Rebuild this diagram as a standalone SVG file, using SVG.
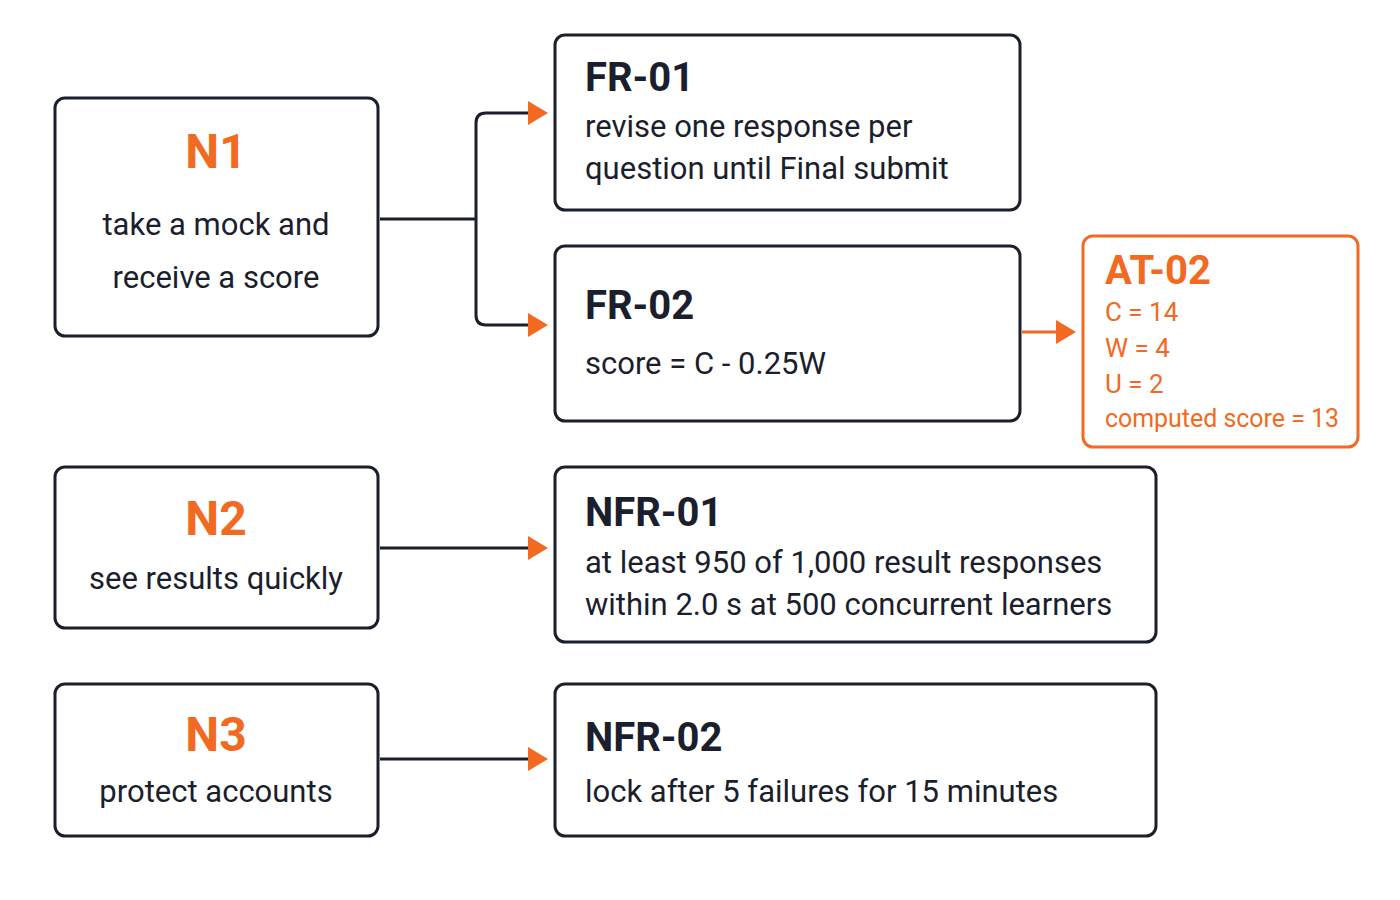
<svg xmlns="http://www.w3.org/2000/svg" width="1400" height="900" viewBox="0 0 1400 900">
<defs>
<style>
.box{fill:#fff;stroke:#1b1e2c;stroke-width:3}
.obox{fill:#fff;stroke:#f26a21;stroke-width:3}
.t{font-family:Roboto,"Liberation Sans",sans-serif;fill:#1b1e2c}
.h{font-weight:bold;font-size:40px}
.nh{font-weight:bold;font-size:48px;fill:#f26a21}
.b{font-size:31px}
.o{fill:#f26a21}
.c{fill:none;stroke:#1b1e2c;stroke-width:3}
.oc{fill:none;stroke:#f26a21;stroke-width:3}
</style>
</defs>
<rect width="1400" height="900" fill="#fff"/>
<g id="connectors">
<path class="c" d="M380,219 H476"/>
<path class="c" d="M530,113 H486 Q476,113 476,123 V315 Q476,325 486,325 H530"/>
<path class="c" d="M380,548 H530"/>
<path class="c" d="M380,759 H530"/>
<path class="oc" d="M1022,332 H1058"/>
<path d="M528,101 L548,113 L528,125 z" fill="#f26a21"/>
<path d="M528,313 L548,325 L528,337 z" fill="#f26a21"/>
<path d="M528,536 L548,548 L528,560 z" fill="#f26a21"/>
<path d="M528,747 L548,759 L528,771 z" fill="#f26a21"/>
<path d="M1056,320 L1076,332 L1056,344 z" fill="#f26a21"/>
</g>
<g id="N1"><rect class="box" x="55" y="98" width="323" height="238" rx="10"/>
<text class="t nh" x="216" y="168" text-anchor="middle">N1</text>
<text class="t b" x="216" y="235" text-anchor="middle">take a mock and</text>
<text class="t b" x="216" y="288" text-anchor="middle">receive a score</text></g>
<g id="FR-01"><rect class="box" x="555" y="35" width="465" height="175" rx="10"/>
<text class="t h" x="585" y="91">FR-01</text>
<text class="t b" x="585" y="137">revise one response per</text>
<text class="t b" x="585" y="179">question until Final submit</text></g>
<g id="FR-02"><rect class="box" x="555" y="246" width="465" height="175" rx="10"/>
<text class="t h" x="585" y="319">FR-02</text>
<text class="t b" x="585" y="374">score = C - 0.25W</text></g>
<g id="AT-02"><rect class="obox" x="1083" y="236" width="275" height="211" rx="10"/>
<text class="t h o" x="1105" y="284">AT-02</text>
<text class="t o" font-size="26" x="1105" y="321">C = 14</text>
<text class="t o" font-size="26" x="1105" y="357">W = 4</text>
<text class="t o" font-size="26" x="1105" y="393">U = 2</text>
<text class="t o" font-size="26" x="1105" y="427" textLength="234" lengthAdjust="spacingAndGlyphs">computed score = 13</text></g>
<g id="N2"><rect class="box" x="55" y="467" width="323" height="161" rx="10"/>
<text class="t nh" x="216" y="535" text-anchor="middle">N2</text>
<text class="t b" x="216" y="589" text-anchor="middle">see results quickly</text></g>
<g id="NFR-01"><rect class="box" x="555" y="467" width="601" height="175" rx="10"/>
<text class="t h" x="585" y="526">NFR-01</text>
<text class="t b" x="585" y="573">at least 950 of 1,000 result responses</text>
<text class="t b" x="585" y="615">within 2.0 s at 500 concurrent learners</text></g>
<g id="N3"><rect class="box" x="55" y="684" width="323" height="152" rx="10"/>
<text class="t nh" x="216" y="751" text-anchor="middle">N3</text>
<text class="t b" x="216" y="802" text-anchor="middle">protect accounts</text></g>
<g id="NFR-02"><rect class="box" x="555" y="684" width="601" height="152" rx="10"/>
<text class="t h" x="585" y="751">NFR-02</text>
<text class="t b" x="585" y="802">lock after 5 failures for 15 minutes</text></g>
</svg>
